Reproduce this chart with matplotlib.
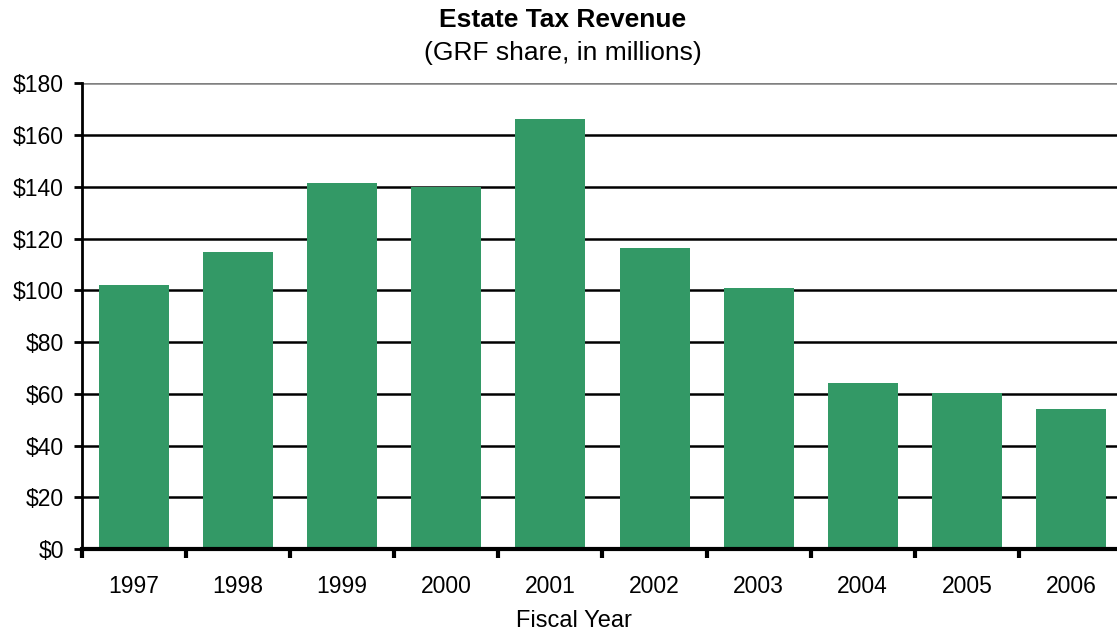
import matplotlib
matplotlib.use("Agg")
import matplotlib.pyplot as plt
from matplotlib.ticker import FuncFormatter, FixedLocator

plt.rcParams['font.family'] = ['Liberation Sans', 'DejaVu Sans']

years = ["1997", "1998", "1999", "2000", "2001", "2002", "2003", "2004", "2005", "2006"]
revenue = [102.0, 114.8, 141.5, 139.9, 166.2, 116.4, 100.9, 64.2, 60.2, 54.1]
y_ticks = [0, 20, 40, 60, 80, 100, 120, 140, 160, 180]

W, H = 1117, 632
fig = plt.figure(figsize=(W / 100, H / 100), dpi=100)
left, right, top, bottom = 82, 1123, 83.3, 549
ax = fig.add_axes([left / W, 1 - bottom / H, (right - left) / W, (bottom - top) / H])

x = list(range(len(years)))
ax.bar(x, revenue, width=0.672, color="#339966", zorder=3)

ax.set_xlim(-0.5, len(years) - 0.5)
ax.set_ylim(0, 180)

ax.yaxis.set_major_locator(FixedLocator(y_ticks))
ax.yaxis.set_major_formatter(FuncFormatter(lambda v, p: f"${v:.0f}"))
for v in y_ticks[1:-1]:
    ax.axhline(v, color="black", lw=1.8, zorder=1)
ax.axhline(180, color="#808080", lw=1.8, zorder=1)

ax.set_xticks(x)
ax.set_xticklabels(years)
ax.set_xticks([i - 0.5 for i in range(len(years) + 1)], minor=True)
ax.tick_params(axis="x", which="major", length=0, pad=18.5, labelsize=16.5)
ax.tick_params(axis="x", which="minor", length=6.5, width=3, direction="out", color="black")
ax.tick_params(axis="y", which="major", length=6, width=2, direction="out", labelsize=16.5, pad=7)

for s in ("top", "right"):
    ax.spines[s].set_visible(False)
ax.spines["left"].set_linewidth(2)
ax.spines["bottom"].set_linewidth(3)
ax.spines["bottom"].set_zorder(4)

fig.text(574 / W, 1 - 627 / H, "Fiscal Year", ha="center", va="baseline", fontsize=17)
fig.text(563 / W, 1 - 27 / H, "Estate Tax Revenue", ha="center", va="baseline",
         fontsize=19, fontweight="bold")
fig.text(563 / W, 1 - 60 / H, "(GRF share, in millions)", ha="center", va="baseline",
         fontsize=19)

fig.savefig("out.png", dpi=100)
